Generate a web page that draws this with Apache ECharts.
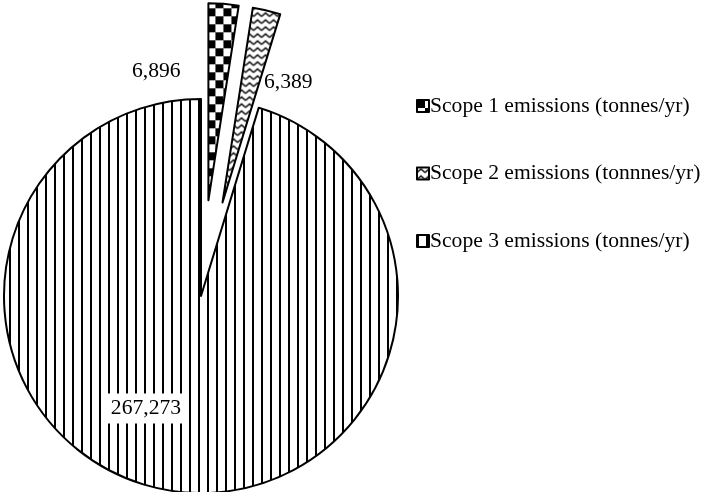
<!DOCTYPE html>
<html>
<head>
<meta charset="utf-8">
<script src="https://cdn.jsdelivr.net/npm/echarts@6/dist/echarts.min.js"></script>
<style>
html,body{margin:0;padding:0;background:#fff;}
#chart{width:702px;height:492px;}
</style>
</head>
<body>
<div id="chart"></div>
<script>
const categories = ['Scope 1 emissions (tonnes/yr)', 'Scope 2 emissions (tonnnes/yr)', 'Scope 3 emissions (tonnes/yr)'];
const values = [6896, 6389, 267273];
const labelTexts = ['6,896', '6,389', '267,273'];

function makeCanvas(w, h, draw) {
  const c = document.createElement('canvas');
  c.width = w; c.height = h;
  const ctx = c.getContext('2d');
  ctx.fillStyle = '#fff';
  ctx.fillRect(0, 0, w, h);
  draw(ctx);
  return c;
}
const checker = makeCanvas(16, 16, ctx => {
  ctx.fillStyle = '#000';
  ctx.fillRect(0, 0, 8, 8);
  ctx.fillRect(8, 8, 8, 8);
});
const wavy = makeCanvas(8, 7, ctx => {
  ctx.strokeStyle = '#000';
  ctx.lineWidth = 1.4;
  ctx.beginPath();
  ctx.moveTo(0, 5); ctx.lineTo(4, 1.5); ctx.lineTo(8, 5);
  ctx.stroke();
});
const vlines = makeCanvas(9, 9, ctx => {
  ctx.fillStyle = '#000';
  ctx.fillRect(0, 0, 2, 9);
});
const patterns = [checker, wavy, vlines];

const chart = echarts.init(document.getElementById('chart'), null, {renderer: 'canvas'});
const font = 'Liberation Serif';
const labelOffsets = [[-60, -28], [43, -21], [-40, 12]];

chart.setOption({
  animation: false,
  backgroundColor: '#fff',
  legend: {
    orient: 'vertical',
    left: 411,
    top: 90,
    itemGap: 45.5,
    itemWidth: 12,
    itemHeight: 12,
    icon: 'rect',
    itemStyle: {borderColor: '#000', borderWidth: 2},
    textStyle: {fontFamily: font, fontSize: 21.6, color: '#000', padding: [0, 0, 0, -4]},
    data: categories
  },
  series: [{
    type: 'pie',
    center: [201, 296],
    radius: 197,
    startAngle: 90,
    clockwise: true,
    selectedMode: 'multiple',
    selectedOffset: 96,
    avoidLabelOverlap: false,
    emphasis: {disabled: true},
    itemStyle: {borderColor: '#000', borderWidth: 2},
    labelLine: {show: false},
    labelLayout: function (params) {
      const o = labelOffsets[params.dataIndex];
      return {dx: o[0], dy: o[1], hideOverlap: false};
    },
    data: categories.map((c, i) => ({
      name: c,
      value: values[i],
      selected: i < 2,
      itemStyle: {color: {image: patterns[i], repeat: 'repeat'}},
      select: {itemStyle: {color: {image: patterns[i], repeat: 'repeat'}, borderColor: '#000', borderWidth: 2}},
      label: {
        show: true,
        position: 'inside',
        formatter: labelTexts[i],
        fontFamily: font,
        fontSize: 21.6,
        color: '#000',
        backgroundColor: i === 2 ? '#fff' : 'transparent',
        padding: i === 2 ? [4, 6] : 0
      }
    }))
  }]
});
</script>
</body>
</html>
